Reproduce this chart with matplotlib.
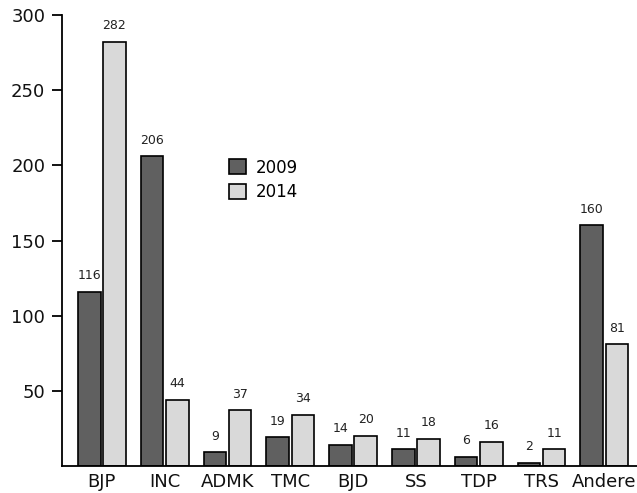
import matplotlib.pyplot as plt
import numpy as np

# Sitze je Partei
parteien = ["BJP", "INC", "ADMK", "TMC", "BJD", "SS", "TDP", "TRS", "Andere"]
sitze_2009 = [116, 206, 9, 19, 14, 11, 6, 2, 160]
sitze_2014 = [282, 44, 37, 34, 20, 18, 16, 11, 81]

dunkel = '#606060'
hell = '#d9d9d9'

fig = plt.figure(figsize=(6.37, 4.93), dpi=100)
ax = fig.add_axes([62/637, 27/493, 575/637, 451/493])

x = np.arange(len(parteien))
breite = 0.36
abstand = 0.02

b1 = ax.bar(x - breite/2 - abstand, sitze_2009, breite, color=dunkel, edgecolor='black', linewidth=1.2, label='2009')
b2 = ax.bar(x + breite/2 + abstand, sitze_2014, breite, color=hell, edgecolor='black', linewidth=1.2, label='2014')

#Beschriftung ueber den Balken
for balken in [b1, b2]:
    ax.bar_label(balken, padding=7, fontsize=9, color='#222222')

ax.set_xlim(-0.635, 8.52)
ax.set_ylim(0, 300)
ax.set_yticks([50, 100, 150, 200, 250, 300])
ax.set_xticks(x)
ax.set_xticklabels(parteien)
ax.tick_params(axis='y', length=7, width=1.3, labelsize=13, pad=5, labelcolor='#111111')
ax.tick_params(axis='x', length=0, labelsize=13, pad=5, labelcolor='#111111')

ax.spines['top'].set_visible(False)
ax.spines['right'].set_visible(False)
ax.spines['left'].set_linewidth(1.3)
ax.spines['bottom'].set_linewidth(1.3)

ax.legend(frameon=False, fontsize=12, loc='upper left', bbox_to_anchor=(0.265, 0.715),
          handlelength=1.0, handleheight=1.0, handletextpad=0.6, labelspacing=0.4)

plt.savefig('out.png', dpi=100)
